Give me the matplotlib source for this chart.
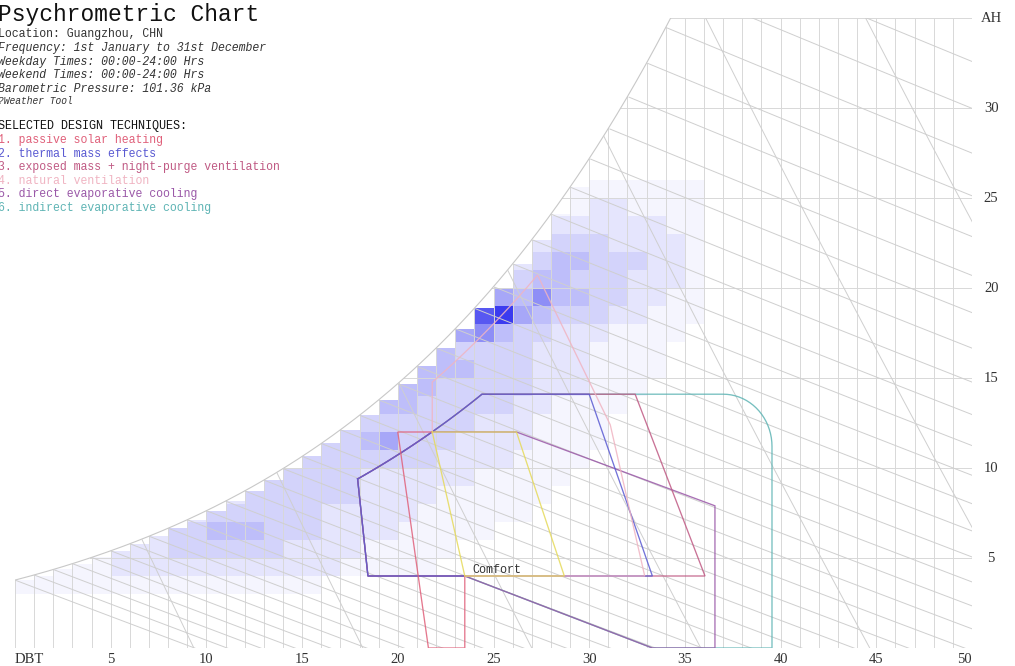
import numpy as np
import matplotlib.pyplot as plt
from matplotlib.patches import Polygon
from matplotlib.colors import LinearSegmentedColormap, PowerNorm

# ---- chart data -------------------------------------------------------------
pressure = 101.36  # kPa
x_ticks = [5, 10, 15, 20, 25, 30, 35, 40, 45, 50]
y_ticks = [5, 10, 15, 20, 25, 30]

info_lines = [
    ("Location: Guangzhou, CHN", "normal"),
    ("Frequency: 1st January to 31st December", "italic"),
    ("Weekday Times: 00:00-24:00 Hrs", "italic"),
    ("Weekend Times: 00:00-24:00 Hrs", "italic"),
    ("Barometric Pressure: 101.36 kPa", "italic"),
]
techniques = ["passive solar heating", "thermal mass effects",
              "exposed mass + night-purge ventilation", "natural ventilation",
              "direct evaporative cooling", "indirect evaporative cooling"]
tech_colors = ["#e0607a", "#5a5ad2", "#c05a84", "#f0b4c2", "#9a58a8", "#5eb4b4"]

# hourly frequency per 1 degC x 1 g/kg bin (0-9), rows W = 3..25, columns T = 0..35
heat_t = np.arange(0, 36)
heat_w = np.arange(3, 26)
heat_rows = [
    "111111111111111100000000000000000000",  # W=3
    "001112222222222221111100000000000000",  # W=4
    "000012223333332222111110000000000000",  # W=5
    "000000023344433322221111100000000000",  # W=6
    "000000000233333322222111111000000000",  # W=7
    "000000000002333333222211111100000000",  # W=8
    "000000000000033333222222111110000000",  # W=9
    "000000000000000333333322221111000000",  # W=10
    "000000000000000033453332222111100000",  # W=11
    "000000000000000003333333222111100000",  # W=12
    "000000000000000000044333332211110000",  # W=13
    "000000000000000000004433333222111000",  # W=14
    "000000000000000000000444333222111100",  # W=15
    "000000000000000000000043333222111100",  # W=16
    "000000000000000000000005643322211110",  # W=17
    "000000000000000000000000895433322111",  # W=18
    "000000000000000000000000054644332211",  # W=19
    "000000000000000000000000003443332221",  # W=20
    "000000000000000000000000002344333221",  # W=21
    "000000000000000000000000000233322221",  # W=22
    "000000000000000000000000000022222211",  # W=23
    "000000000000000000000000000011221111",  # W=24
    "000000000000000000000000000001111111",  # W=25
]
heat = np.array([[int(c) for c in r] for r in heat_rows])

# zone corner points (DBT degC, AH g/kg)
comfort_t = [21.8, 26.2, 28.7, 23.5]
comfort_w = [12.0, 12.0, 4.0, 4.0]
solar_t = [21.8, 20.0, 21.6, 23.5, 23.5]
solar_w = [12.0, 12.0, 0.0, 0.0, 4.0]
thermal_t = [30.0, 33.3, 18.44]
thermal_w = [14.1, 4.0, 4.0]
exposed_t = [32.4, 36.05, 18.44]
exposed_w = [14.1, 4.0, 4.0]
natvent_t = [31.1, 32.9, 23.5]
natvent_w = [12.4, 4.0, 4.0]
direct_t = [26.2, 36.57, 36.57, 33.3, 23.5, 18.44]
direct_w = [12.0, 7.9, 0.0, 0.0, 4.0, 4.0]
indirect_t = [37.0, 39.55, 39.55, 33.3, 23.5, 18.44]
indirect_w = [14.1, 11.2, 0.0, 0.0, 4.0, 4.0]

# ---- psychrometrics ---------------------------------------------------------
def p_ws(t):
    tk = np.asarray(t, float) + 273.15
    return np.exp(-5.8002206e3 / tk + 1.3914993 - 4.8640239e-2 * tk
                  + 4.1764768e-5 * tk ** 2 - 1.4452093e-8 * tk ** 3
                  + 6.5459673 * np.log(tk)) / 1000.0


def w_rh(t, rh=1.0):
    p = rh * p_ws(t)
    return 621.945 * p / (pressure - p)


tt = np.linspace(0, 60, 3000)
def t_at_w(w, rh=1.0):
    return float(np.interp(w, w_rh(tt, rh), tt))


def wb_line(twb, t):
    ws = w_rh(twb) / 1000
    return 1000 * ((2501 - 2.326 * twb) * ws - 1.006 * (t - twb)) / (2501 + 1.86 * t - 4.186 * twb)


# ---- figure -----------------------------------------------------------------
W_PX, H_PX = 1015, 666
fig = plt.figure(figsize=(W_PX / 100, H_PX / 100), dpi=100)
ax = fig.add_axes([15 / W_PX, 18 / H_PX, 957 / W_PX, 630 / H_PX])
ax.set_xlim(0, 50)
ax.set_ylim(0, 35)
ax.axis("off")

t_top = t_at_w(35)
ts = np.linspace(0, t_top, 400)
region = Polygon([(0, 0)] + list(zip(ts, w_rh(ts))) + [(50, 35), (50, 0)],
                 closed=True, transform=ax.transData)

# heat map cells, clipped at saturation of the bin's left edge
cmap = LinearSegmentedColormap.from_list("f", ["#ffffff", "#3232ee"])
norm = PowerNorm(1.35, 0, 9.3)
for i, w in enumerate(heat_w):
    vals = heat[i]
    hgt = np.clip(w_rh(heat_t) - w, 0, 1)
    m = (vals > 0) & (hgt > 0)
    ax.bar(heat_t[m], hgt[m], width=1, bottom=w, align="edge",
           color=cmap(norm(vals[m].astype(float))), linewidth=0, zorder=1)

grid_kw = dict(color="#d8d8d8", lw=0.7, zorder=2)
diag_kw = dict(color="#cfcfcf", lw=0.7, zorder=2)

for t in range(0, 51):
    ax.plot([t, t], [0, min(w_rh(t), 35)], **grid_kw)
for w in range(0, 36, 5):
    t0 = t_at_w(w) if w > w_rh(0) else 0
    ax.plot([t0, 50.25], [w, w], **grid_kw)
ax.plot(ts, w_rh(ts), color="#c8c8c8", lw=0.8, zorder=2)

# wet bulb lines every 1 degC
tl = np.linspace(0, 50, 400)
for twb in range(0, 40):
    seg = tl[tl >= twb]
    ln, = ax.plot(seg, wb_line(twb, seg), **diag_kw)
    ln.set_clip_path(region)

# specific volume lines every 0.025 m3/kg
wl = np.linspace(0, 36, 200)
for v in np.arange(0.800, 0.951, 0.025):
    t_v = v * pressure / (0.287042 * (1 + 1.607858 * wl / 1000)) - 273.15
    ln, = ax.plot(t_v, wl, **diag_kw)
    ln.set_clip_path(region)

# ---- design zones -----------------------------------------------------------
rh_edge = 0.735
t_end = t_at_w(14.1, rh_edge)
edge_t = np.linspace(17.9, t_end, 40)
edge_w = w_rh(edge_t, rh_edge)
part_t = np.linspace(17.9, 21.8, 20)
part_w = w_rh(part_t, rh_edge)

def zone(xs, ys, color, closed=True):
    xs, ys = list(xs), list(ys)
    if closed:
        xs, ys = xs + xs[:1], ys + ys[:1]
    ax.plot(xs, ys, color=color, lw=0.95, alpha=0.85, zorder=4,
            solid_joinstyle="miter")

ang = np.linspace(np.pi / 2, 0, 20)
arc_t = indirect_t[0] + 2.55 * np.cos(ang)
arc_w = indirect_w[1] + 2.9 * np.sin(ang)
zone(list(edge_t) + list(arc_t) + indirect_t[1:],
     list(edge_w) + list(arc_w) + indirect_w[1:], tech_colors[5])
zone(list(part_t) + direct_t, list(part_w) + direct_w, tech_colors[4])
zone(list(edge_t) + exposed_t, list(edge_w) + exposed_w, tech_colors[2])
zone(list(edge_t) + thermal_t, list(edge_w) + thermal_w, tech_colors[1])

nv_t = np.linspace(21.8, 27.3, 30)
zone([21.8] + list(nv_t) + natvent_t, [12.0] + list(w_rh(nv_t, 0.9)) + natvent_w,
     tech_colors[3], closed=False)
zone(solar_t, solar_w, tech_colors[0], closed=False)
zone(comfort_t, comfort_w, "#e6da5a")
ax.text(23.9, 4.35, "Comfort", fontsize=8.5, family="Liberation Mono",
        color="#333333", va="center", ha="left", zorder=5)

# ---- axis labels ------------------------------------------------------------
lab_kw = dict(fontsize=10.5, family="Liberation Serif", color="#333333",
              va="center", clip_on=False)
ax.text(0, -0.62, "DBT", ha="left", **lab_kw)
for t in x_ticks:
    ax.text(t, -0.62, str(t), ha="right" if t == 50 else "center", **lab_kw)
for w in y_ticks:
    ax.text(51.0, w, str(w), ha="center", **lab_kw)
ax.text(51.0, 35, "AH", ha="center", **lab_kw)

# ---- header text ------------------------------------------------------------
def ytop(px):
    return 1 - px / H_PX

mono = "Liberation Mono"
fig.text(-0.002, ytop(15), "Psychrometric Chart", fontsize=16.5, family=mono,
         va="center", ha="left", color="#111111")
for k, (line, style) in enumerate(info_lines):
    fig.text(-0.002, ytop(34 + 13.8 * k), line, fontsize=8.3, family=mono,
             style=style, va="center", ha="left", color="#333333")
fig.text(-0.002, ytop(101), "?Weather Tool", fontsize=6.9, family=mono,
         style="italic", va="center", ha="left", color="#333333")
fig.text(-0.002, ytop(126), "SELECTED DESIGN TECHNIQUES:", fontsize=8.5,
         family=mono, va="center", ha="left", color="#111111")
for k, (name, col) in enumerate(zip(techniques, tech_colors)):
    fig.text(-0.002, ytop(140 + 13.6 * k), f"{k + 1}. {name}", fontsize=8.3,
             family=mono, va="center", ha="left", color=col)

fig.savefig("out.png", dpi=100, facecolor="white")
